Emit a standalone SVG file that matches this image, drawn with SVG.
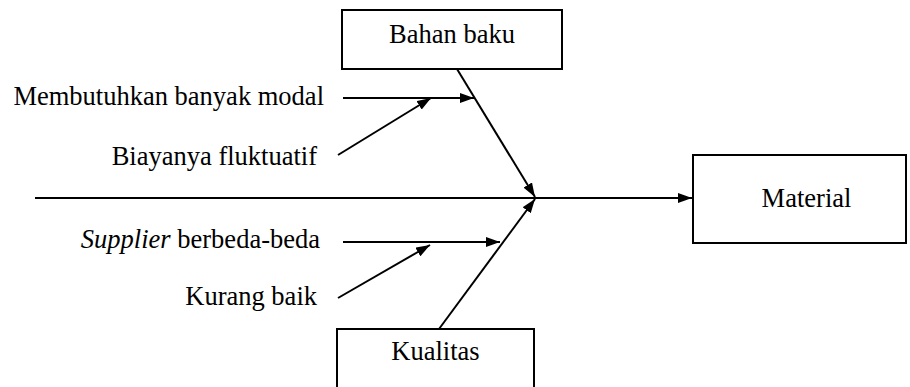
<svg xmlns="http://www.w3.org/2000/svg" width="910" height="387" viewBox="0 0 910 387">
  <style>
    .box { fill: #fff; stroke: #000; stroke-width: 2; }
    .ln { stroke: #000; stroke-width: 2; fill: none; marker-end: url(#arr); }
  </style>
  <defs>
    <marker id="arr" viewBox="0 0 14 10" refX="14" refY="5" markerWidth="14" markerHeight="10" markerUnits="userSpaceOnUse" orient="auto">
      <path d="M0,0 L14,5 L0,10 Z" fill="#000"/>
    </marker>
  </defs>
  <rect width="910" height="387" fill="#fff"/>

  <g id="connectors">
    <!-- main spine -->
    <line class="ln" x1="35" y1="198" x2="692" y2="198"/>
    <!-- main bones -->
    <line class="ln" x1="457" y1="69" x2="535" y2="197"/>
    <line class="ln" x1="439" y1="329" x2="535" y2="199"/>
    <!-- upper sub-causes -->
    <line class="ln" x1="343" y1="98" x2="474" y2="98"/>
    <line class="ln" x1="338" y1="155" x2="431" y2="98"/>
    <!-- lower sub-causes -->
    <line class="ln" x1="343" y1="242" x2="500" y2="242"/>
    <line class="ln" x1="338" y1="298" x2="430" y2="245"/>
  </g>

  <g id="bahan-baku">
    <rect class="box" x="342" y="10" width="220" height="59"/>
    <text x="452" y="43" font-family="Liberation Serif" font-size="26.5" text-anchor="middle">Bahan baku</text>
  </g>

  <g id="kualitas">
    <rect class="box" x="337" y="329" width="197" height="70"/>
    <text x="435.5" y="360" font-family="Liberation Serif" font-size="26.5" text-anchor="middle">Kualitas</text>
  </g>

  <g id="material">
    <rect class="box" x="693" y="155" width="213" height="88"/>
    <text x="806.5" y="207" font-family="Liberation Serif" font-size="26.5" text-anchor="middle">Material</text>
  </g>

  <g id="cause-modal">
    <text x="324" y="105" font-family="Liberation Serif" font-size="26.5" text-anchor="end">Membutuhkan banyak modal</text>
  </g>
  <g id="cause-biaya">
    <text x="317" y="165" font-family="Liberation Serif" font-size="26.5" text-anchor="end">Biayanya fluktuatif</text>
  </g>
  <g id="cause-supplier">
    <text x="320" y="248" font-family="Liberation Serif" font-size="26.5" text-anchor="end"><tspan font-style="italic">Supplier</tspan> berbeda-beda</text>
  </g>
  <g id="cause-kurang">
    <text x="317" y="305" font-family="Liberation Serif" font-size="26.5" text-anchor="end">Kurang baik</text>
  </g>
</svg>
